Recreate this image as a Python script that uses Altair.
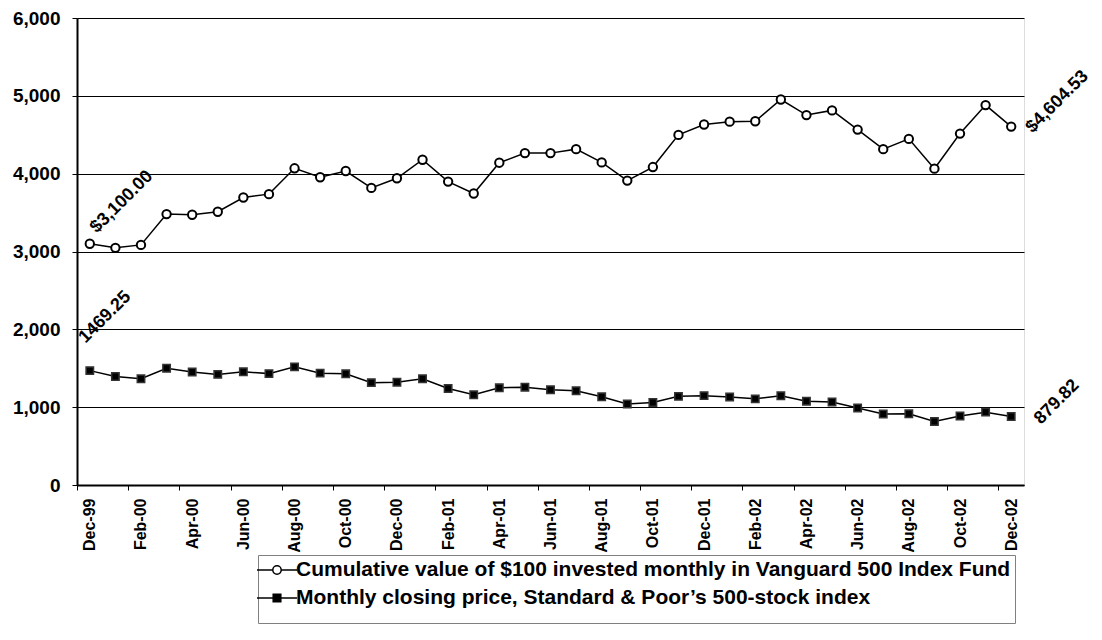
import altair as alt
import pandas as pd

months = ["Dec-99", "Jan-00", "Feb-00", "Mar-00", "Apr-00", "May-00", "Jun-00", "Jul-00",
          "Aug-00", "Sep-00", "Oct-00", "Nov-00", "Dec-00", "Jan-01", "Feb-01", "Mar-01",
          "Apr-01", "May-01", "Jun-01", "Jul-01", "Aug-01", "Sep-01", "Oct-01", "Nov-01",
          "Dec-01", "Jan-02", "Feb-02", "Mar-02", "Apr-02", "May-02", "Jun-02", "Jul-02",
          "Aug-02", "Sep-02", "Oct-02", "Nov-02", "Dec-02"]

vanguard = [3100.00, 3047, 3085, 3481, 3472, 3511, 3694, 3737, 4069, 3954, 4034, 3817,
            3941, 4179, 3898, 3745, 4141, 4264, 4264, 4315, 4145, 3911, 4085, 4498,
            4632, 4668, 4673, 4953, 4753, 4813, 4566, 4315, 4447, 4064, 4515, 4881, 4604.53]

sp500 = [1469.25, 1394, 1366, 1499, 1452, 1421, 1455, 1431, 1518, 1437, 1429, 1315,
         1320, 1366, 1240, 1160, 1249, 1256, 1224, 1211, 1134, 1041, 1060, 1139,
         1148, 1130, 1107, 1147, 1077, 1067, 990, 912, 916, 815, 886, 936, 879.82]

y_ticks = [0, 1000, 2000, 3000, 4000, 5000, 6000]

VG = "Cumulative value of $100 invested monthly in Vanguard 500 Index Fund"
SP = "Monthly closing price, Standard & Poor\u2019s 500-stock index"

vg_start_label = ["$3,100.00"]
vg_end_label = ["$4,604.53"]
sp_start_label = ["1469.25"]
sp_end_label = ["879.82"]

FONT = "Liberation Sans"
W, H = 947, 467
STEP = W / len(months)

df = pd.DataFrame({
    "month": months + months,
    "value": vanguard + sp500,
    "series": [VG] * len(months) + [SP] * len(months),
})

def ann(month, value, label):
    return pd.DataFrame({"month": [month], "value": [value], "label": label})

x_enc = alt.X("month:O", sort=months,
              scale=alt.Scale(type="point", padding=0.5),
              axis=alt.Axis(values=months[::2], title=None, labelAngle=270,
                            labelFont=FONT, labelFontSize=16, labelFontWeight="bold",
                            labelColor="black", labelPadding=8, labelOverlap=False,
                            tickOffset=-STEP / 2, labelOffset=STEP / 2,
                            tickColor="black", tickSize=5, tickWidth=1,
                            domainColor="black", domainWidth=2, grid=False))
y_enc = alt.Y("value:Q", scale=alt.Scale(domain=[0, 6000]),
              axis=alt.Axis(values=y_ticks, format=",d", title=None,
                            labelFont=FONT, labelFontSize=19, labelFontWeight="bold",
                            labelColor="black", labelPadding=12,
                            tickColor="black", tickSize=5, tickWidth=1,
                            domainColor="black", domainWidth=2,
                            grid=True, gridColor="black", gridWidth=1))

base = alt.Chart(df).encode(x=x_enc, y=y_enc)

vg_line = base.transform_filter(alt.datum.series == VG).mark_line(color="black", strokeWidth=1.5)
sp_line = base.transform_filter(alt.datum.series == SP).mark_line(color="black", strokeWidth=1.5)
vg_pts = base.transform_filter(alt.datum.series == VG).mark_point(
    shape="circle", filled=True, fill="white", stroke="black", strokeWidth=2, size=70, opacity=1)
sp_pts = base.transform_filter(alt.datum.series == SP).mark_point(
    shape="square", filled=True, fill="black", stroke="#333333", strokeWidth=1.5, size=55, opacity=1)

path_c = "M-2,0L-0.42,0M0.42,0L2,0M-0.42,0A0.42,0.42,0,1,1,0.42,0A0.42,0.42,0,1,1,-0.42,0"
path_s = "M-2,0L2,0M-0.38,-0.38L0.38,-0.38L0.38,0.38L-0.38,0.38Z"

leg = alt.Legend(title=" ", titleOrient="bottom", titleFontSize=9, titlePadding=2,
                 orient="none", legendX=181, legendY=537,
                 strokeColor="#808080", fillColor="white", padding=4,
                 labelFont=FONT, labelFontSize=21, labelFontWeight="bold",
                 labelColor="black", labelLimit=2000,
                 symbolSize=400, symbolOffset=4, labelOffset=8, rowPadding=7,
                 symbolStrokeColor="black", symbolStrokeWidth=1.5)

legend_layer = alt.Chart(df).transform_filter("datum.value < 0").mark_point(
    filled=True, strokeWidth=1.5, size=400, opacity=1
).encode(
    shape=alt.Shape("series:N", scale=alt.Scale(domain=[VG, SP], range=[path_c, path_s]), legend=leg),
    fill=alt.Fill("series:N", scale=alt.Scale(domain=[VG, SP], range=["white", "black"]), legend=leg),
    stroke=alt.Stroke("series:N", scale=alt.Scale(domain=[VG, SP], range=["black", "black"]), legend=leg),
)

txt_style = dict(angle=315, align="left", baseline="alphabetic", font=FONT,
                 fontSize=18, fontWeight="bold", color="black")

def label_layer(frame, dx, dy):
    return alt.Chart(frame).mark_text(dx=dx, dy=dy, **txt_style).encode(
        x=alt.X("month:O", sort=months), y="value:Q", text="label:N")

t1 = label_layer(ann(months[0], vanguard[0], vg_start_label), 12, -2)
t2 = label_layer(ann(months[-1], vanguard[-1], vg_end_label), 10, 20)
t3 = label_layer(ann(months[0], sp500[0], sp_start_label), 16, -22)
t4 = label_layer(ann(months[-1], sp500[-1], sp_end_label), 15, 27)

chart = alt.layer(vg_line, sp_line, vg_pts, sp_pts, t1, t2, t3, t4, legend_layer).properties(
    width=W, height=H,
    autosize=alt.AutoSizeParams(type="none"),
    padding={"left": 69, "top": 10, "right": 70, "bottom": 147},
).configure_view(stroke="black", strokeWidth=2).configure(background="white")

chart.save("out.html", embed_options={"renderer": "svg", "actions": False})
